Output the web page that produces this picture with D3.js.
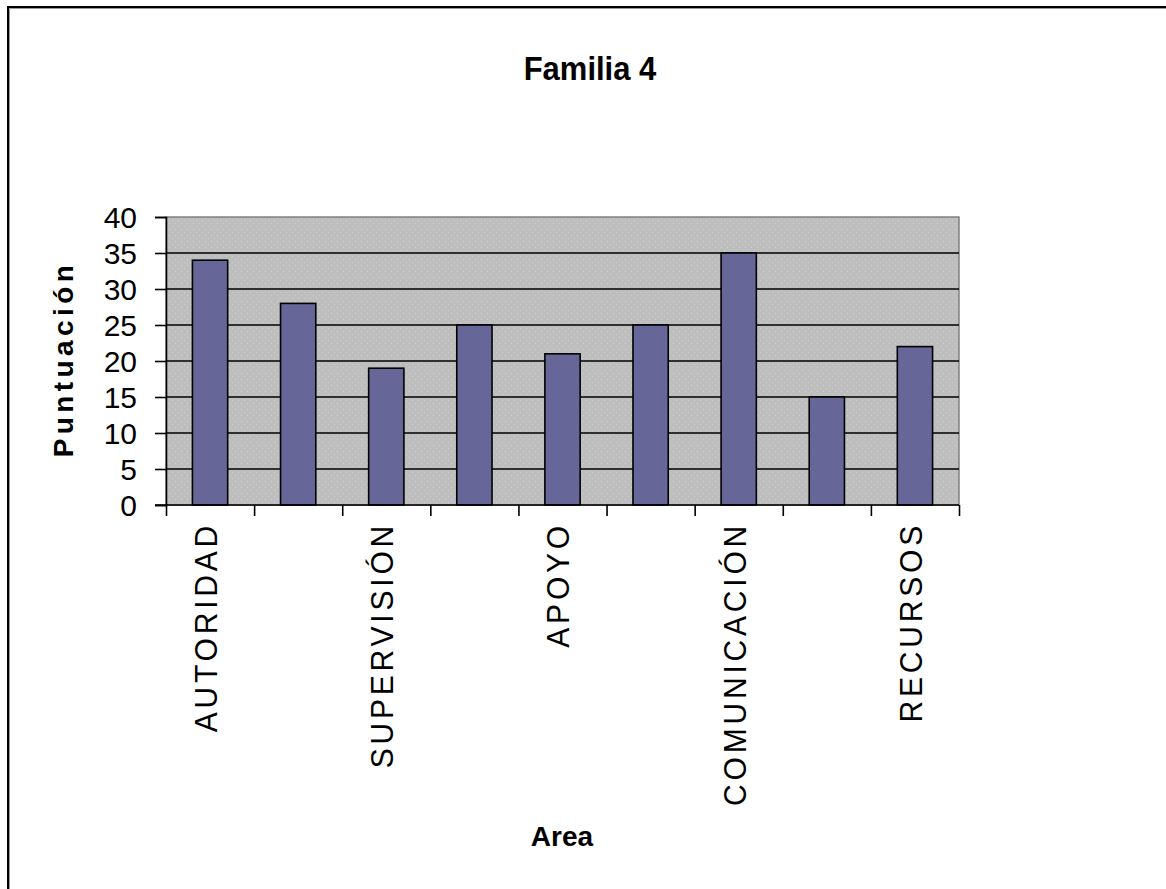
<!DOCTYPE html>
<html>
<head>
<meta charset="utf-8">
<script src="https://cdn.jsdelivr.net/npm/d3@7"></script>
<style>
  html, body { margin: 0; padding: 0; background: #fff; }
  svg { display: block; }
  text { font-family: "Liberation Sans", Arial, sans-serif; fill: #000; }
</style>
</head>
<body>
<svg id="chart" width="1166" height="889"></svg>
<script>
// Puntuación por área — Familia 4
const categories = ["c1", "c2", "c3", "c4", "c5", "c6", "c7", "c8", "c9"];
const tickLabels = ["AUTORIDAD", "", "SUPERVISIÓN", "", "APOYO", "", "COMUNICACIÓN", "", "RECURSOS"];
const values = [34, 28, 19, 25, 21, 25, 35, 15, 22];
const yTicks = [0, 5, 10, 15, 20, 25, 30, 35, 40];
const title = "Familia 4";
const yTitle = "Puntuación";
const xTitle = "Area";

const svg = d3.select("#chart");
const plot = { left: 166, right: 959, top: 217, bottom: 505 };

// Outer frame of the chart
svg.append("rect")
  .attr("x", 8).attr("y", 7).attr("width", 1300).attr("height", 1100)
  .attr("fill", "none").attr("stroke", "#000").attr("stroke-width", 2);
svg.append("path")
  .attr("d", "M9.5,1000V8.5H1300")
  .attr("fill", "none").attr("stroke", "#999").attr("stroke-width", 1);

// Dotted grey fill of the plot area
const defs = svg.append("defs");
const pat = defs.append("pattern")
  .attr("id", "dots").attr("patternUnits", "userSpaceOnUse")
  .attr("width", 6).attr("height", 6);
pat.append("rect").attr("width", 6).attr("height", 6).attr("fill", "#bebebe");
pat.append("rect").attr("x", 1).attr("y", 1).attr("width", 1).attr("height", 1).attr("fill", "#d2d2d2");
pat.append("rect").attr("x", 4).attr("y", 4).attr("width", 1).attr("height", 1).attr("fill", "#cdcdcd");

const x = d3.scaleBand()
  .domain(categories)
  .range([plot.left, plot.right])
  .paddingInner(0.6)
  .paddingOuter(0.3);

const xEdges = d3.scaleLinear()
  .domain([0, categories.length])
  .range([plot.left, plot.right]);

const y = d3.scaleLinear()
  .domain([0, 40])
  .range([plot.bottom, plot.top]);

svg.append("rect")
  .attr("x", plot.left).attr("y", plot.top)
  .attr("width", plot.right - plot.left).attr("height", plot.bottom - plot.top)
  .attr("fill", "url(#dots)")
  .attr("stroke", "#808080").attr("stroke-width", 1.5);

// Horizontal gridlines
svg.append("g")
  .selectAll("line")
  .data(yTicks.filter(d => d > 0 && d < 40))
  .join("line")
  .attr("x1", plot.left).attr("x2", plot.right)
  .attr("y1", d => y(d)).attr("y2", d => y(d))
  .attr("stroke", "#000").attr("stroke-width", 1.6);

// Bars
svg.append("g")
  .selectAll("rect")
  .data(values)
  .join("rect")
  .attr("x", (d, i) => x(categories[i]))
  .attr("y", d => y(d))
  .attr("width", x.bandwidth())
  .attr("height", d => y(0) - y(d))
  .attr("fill", "#666699")
  .attr("stroke", "#000")
  .attr("stroke-width", 1.6);

// Y axis
const yAxis = svg.append("g")
  .attr("transform", `translate(${plot.left},0)`)
  .call(d3.axisLeft(y).tickValues(yTicks).tickSize(11).tickPadding(18));
yAxis.select(".domain").attr("stroke", "#000").attr("stroke-width", 1.6);
yAxis.selectAll(".tick line").attr("stroke", "#000").attr("stroke-width", 1.6);
yAxis.selectAll(".tick text")
  .attr("font-size", 30)
  .attr("font-family", "'Liberation Sans', Arial, sans-serif")
  .attr("dy", "0.36em")
  .attr("fill", "#000");

// X axis: tick marks on category boundaries
const xEdgeAxis = svg.append("g")
  .attr("transform", `translate(0,${plot.bottom})`)
  .call(d3.axisBottom(xEdges).ticks(categories.length).tickSize(11).tickFormat(""));
xEdgeAxis.select(".domain").remove();
xEdgeAxis.selectAll(".tick line").attr("stroke", "#000").attr("stroke-width", 1.6);

svg.append("line")
  .attr("x1", plot.left - 11).attr("x2", plot.right)
  .attr("y1", plot.bottom).attr("y2", plot.bottom)
  .attr("stroke", "#000").attr("stroke-width", 1.6);

// X axis: rotated category labels
const xAxis = svg.append("g")
  .attr("transform", `translate(0,${plot.bottom})`)
  .call(d3.axisBottom(x).tickSize(0).tickFormat((d, i) => tickLabels[i]));
xAxis.select(".domain").remove();
xAxis.selectAll(".tick text")
  .attr("font-size", 30)
  .attr("font-family", "'Liberation Sans', Arial, sans-serif")
  .attr("letter-spacing", 3.8)
  .attr("text-anchor", "end")
  .attr("transform", "rotate(-90) scale(1,1.06)")
  .attr("x", -17)
  .attr("y", 6.5)
  .attr("dy", 0)
  .attr("fill", "#000");

// Titles
svg.append("text")
  .attr("transform", "translate(590,80) scale(1,1.1)")
  .attr("text-anchor", "middle")
  .attr("font-size", 31).attr("font-weight", "bold")
  .text(title);

svg.append("text")
  .attr("transform", `translate(73,${(plot.top + plot.bottom) / 2 - 2}) rotate(-90)`)
  .attr("text-anchor", "middle")
  .attr("font-size", 28).attr("font-weight", "bold")
  .attr("letter-spacing", 4.4)
  .text(yTitle);

svg.append("text")
  .attr("x", 562).attr("y", 846)
  .attr("text-anchor", "middle")
  .attr("font-size", 28).attr("font-weight", "bold")
  .text(xTitle);
</script>
</body>
</html>
